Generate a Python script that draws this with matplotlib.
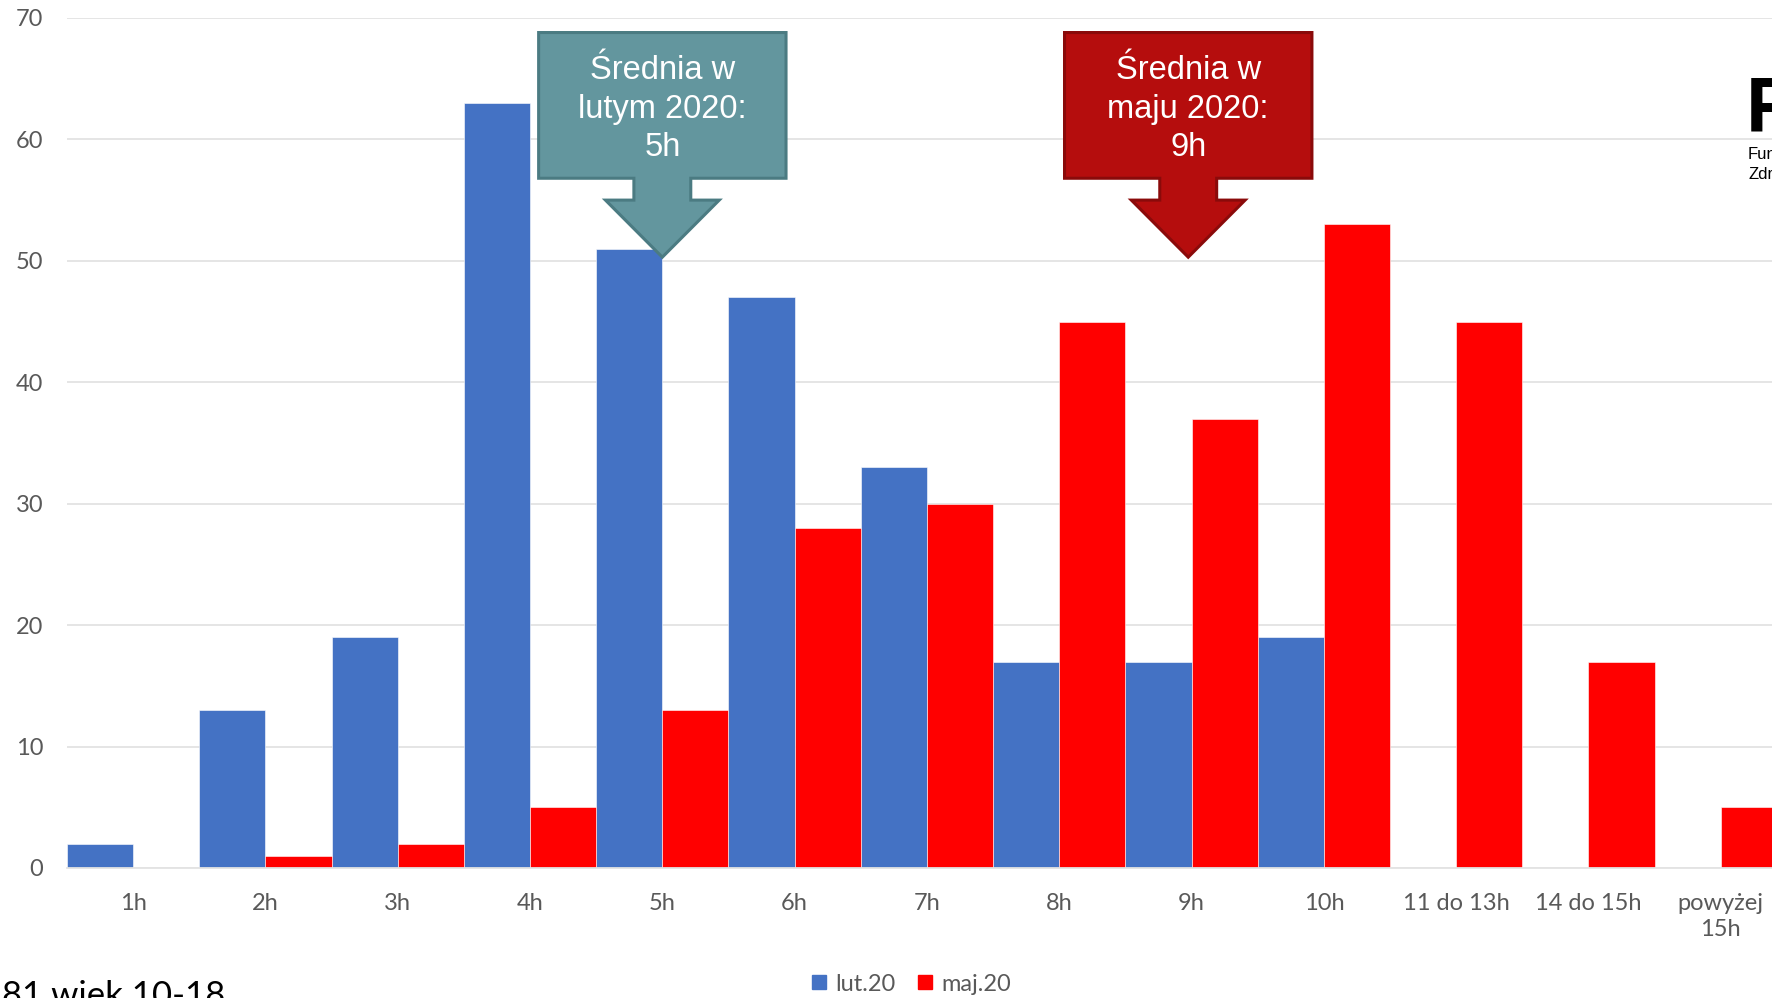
import matplotlib
matplotlib.use('Agg')
import matplotlib.pyplot as plt
from matplotlib.patches import Polygon
from matplotlib.lines import Line2D
import numpy as np

# data
categories = ['1h', '2h', '3h', '4h', '5h', '6h', '7h', '8h', '9h', '10h',
              '11 do 13h', '14 do 15h', 'powyżej\n15h']
lut20 = [2, 13, 19, 63, 51, 47, 33, 17, 17, 19, 0, 0, 0]
maj20 = [0, 1, 2, 5, 13, 28, 30, 45, 37, 53, 45, 17, 5]
series_names = ['lut.20', 'maj.20']

callout_texts = ['Średnia w\nlutym 2020:\n5h', 'Średnia w\nmaju 2020:\n9h']
callout_cats = ['5h', '9h']

BLUE = '#4472C4'
RED = '#FF0000'
GRAY = '#595959'
TICK_FONT = 'Lato'

fig = plt.figure(figsize=(17.72, 9.98), dpi=100)
ax = fig.add_axes([0.0378, 0.1303, 0.9706, 0.8517])

x = np.arange(len(categories))
w = 0.5
ax.bar(x - w / 2, lut20, width=w, color=BLUE, edgecolor='white', linewidth=0.4, zorder=2)
ax.bar(x + w / 2, maj20, width=w, color=RED, edgecolor='white', linewidth=0.4, zorder=2)

ax.set_xlim(-0.5, len(categories) - 0.5)
ax.set_ylim(0, 70)
ax.set_yticks(range(0, 71, 10))
ax.set_xticks(x)
ax.set_xticklabels(categories, linespacing=1.3)
ax.grid(axis='y', color='#E3E3E3', linewidth=1.3, zorder=0)
for s in ['top', 'right', 'left']:
    ax.spines[s].set_visible(False)
ax.spines['bottom'].set_color('#E3E3E3')
ax.spines['bottom'].set_linewidth(1.3)
ax.tick_params(axis='both', length=0, labelsize=17, labelcolor=GRAY)
ax.tick_params(axis='x', pad=18)
ax.tick_params(axis='y', pad=17)
for lab in ax.get_xticklabels() + ax.get_yticklabels():
    lab.set_fontfamily(TICK_FONT)

# callout arrows pointing at the average category
styles = [('#63969E', '#4B7B82', 0.0), ('#B50D0D', '#8A0A0A', -0.025)]
for text, cat, (fc, ec, dx) in zip(callout_texts, callout_cats, styles):
    cx = categories.index(cat) + dx
    L, R = cx - 0.935, cx + 0.935
    T, B = 68.8, 56.8
    sw, ww = 0.215, 0.43
    S, tip = 55.0, 50.3
    pts = [(L, T), (R, T), (R, B), (cx + sw, B), (cx + sw, S), (cx + ww, S),
           (cx, tip), (cx - ww, S), (cx - sw, S), (cx - sw, B), (L, B)]
    ax.add_patch(Polygon(pts, closed=True, facecolor=fc, edgecolor=ec,
                         linewidth=2.2, joinstyle='miter', zorder=5))
    ax.text(cx, (T + B) / 2 - 0.3, text, ha='center', va='center', color='white',
            fontsize=23.5, family='Liberation Sans', linespacing=1.33, zorder=6)

# legend
handles = [Line2D([], [], marker='s', linestyle='none', markersize=10,
                  markerfacecolor=c, markeredgecolor=c) for c in (BLUE, RED)]
leg = fig.legend(handles, series_names, loc='center', bbox_to_anchor=(0.514, 0.014),
                 ncol=2, frameon=False, handlelength=0.7, handletextpad=0.35,
                 columnspacing=0.9, prop={'family': TICK_FONT, 'size': 17})
for t in leg.get_texts():
    t.set_color(GRAY)

# cropped slide elements
fig.text(0.001, 0.018, '81 wiek 10-18', ha='left', va='top', fontsize=25,
         family=TICK_FONT, color='black')
fig.text(0.9853, 0.868, 'F', ha='left', va='baseline', fontsize=56,
         family='Liberation Sans', weight='bold', color='black')
fig.text(0.9865, 0.845, 'Fundacja', ha='left', va='center', fontsize=12,
         family='Liberation Sans', color='black')
fig.text(0.9865, 0.825, 'Zdrowia', ha='left', va='center', fontsize=12,
         family='Liberation Sans', color='black')

fig.savefig('out.png', dpi=100)
